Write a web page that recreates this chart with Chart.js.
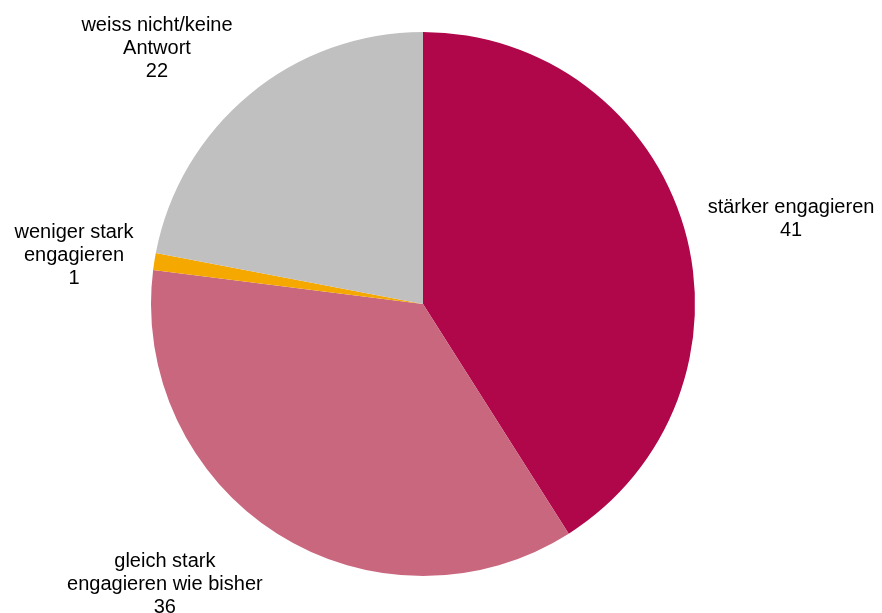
<!DOCTYPE html>
<html>
<head>
<meta charset="utf-8">
<script src="https://cdn.jsdelivr.net/npm/chart.js@4"></script>
<style>
html,body{margin:0;padding:0;background:#fff;}
#wrap{width:882px;height:613px;position:relative;}
</style>
</head>
<body>
<div id="wrap"><canvas id="c" width="882" height="613"></canvas></div>
<script>
const categories = [
  ["stärker engagieren"],
  ["gleich stark", "engagieren wie bisher"],
  ["weniger stark", "engagieren"],
  ["weiss nicht/keine", "Antwort"]
];
const values = [41, 36, 1, 22];
const colors = ["#B0064A", "#C9677F", "#F5A800", "#C0C0C0"];
// label block centre offsets, in units of the pie radius
const labelOffsets = [[1.353, -0.3125], [-0.949, 1.033], [-1.283, -0.18], [-0.978, -0.941]];

const labelPlugin = {
  id: 'outLabels',
  afterDatasetsDraw(chart) {
    const ctx = chart.ctx;
    const meta = chart.getDatasetMeta(0);
    const font = '20px "Liberation Sans", Arial, sans-serif';
    const lh = 23;
    ctx.save();
    ctx.font = font;
    ctx.fillStyle = '#000';
    ctx.textAlign = 'center';
    ctx.textBaseline = 'middle';
    meta.data.forEach((arc, i) => {
      const r = arc.outerRadius;
      const cx = arc.x + labelOffsets[i][0] * r;
      const cy = arc.y + labelOffsets[i][1] * r;
      const lines = categories[i].concat([String(values[i])]);
      const top = cy - (lines.length - 1) * lh / 2;
      lines.forEach((t, k) => ctx.fillText(t, cx, top + k * lh));
    });
    ctx.restore();
  }
};

new Chart(document.getElementById('c'), {
  type: 'pie',
  data: {
    labels: categories.map(c => c.join(' ')),
    datasets: [{
      data: values,
      backgroundColor: colors,
      borderWidth: 0
    }]
  },
  options: {
    responsive: false,
    animation: false,
    layout: { padding: { left: 150, right: 186, top: 32, bottom: 37 } },
    plugins: { legend: { display: false }, tooltip: { enabled: false } }
  },
  plugins: [labelPlugin]
});
</script>
</body>
</html>
